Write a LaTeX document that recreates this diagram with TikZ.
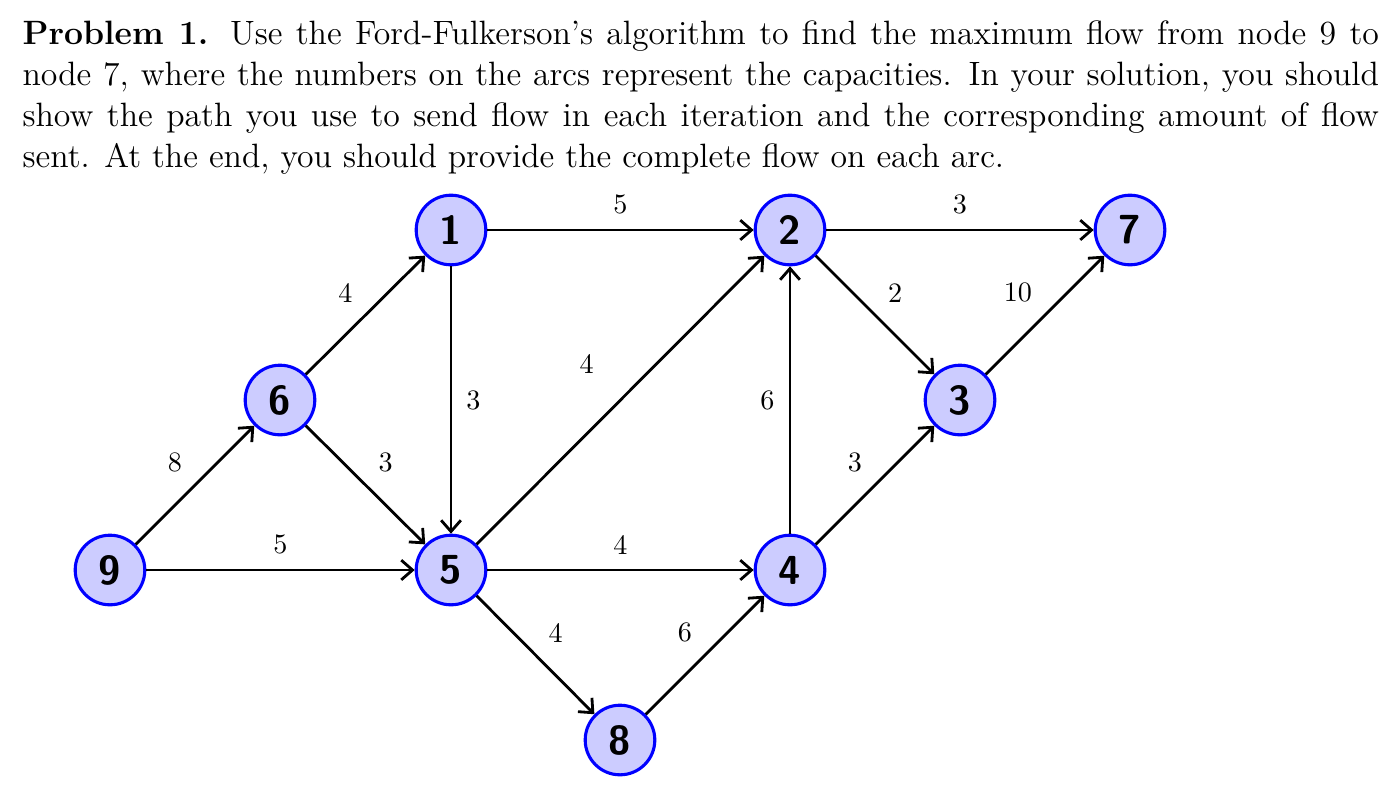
\documentclass[tikz,border=0pt]{standalone}
\usepackage{amsmath}
\usepackage{xcolor}
\usetikzlibrary{positioning, arrows.meta, calc}

\begin{document}
\begin{tikzpicture}[
    x=0.0125cm, y=-0.0125cm,
    vertex/.style={circle, draw=blue, fill=blue!20, line width=1.1pt, minimum size=0.87cm, inner sep=0pt, font=\Large\sffamily\bfseries},
    arc/.style={-{Straight Barb[length=4pt, width=7pt]}, line width=1pt, black},
    capacity/.style={font=\normalsize, inner sep=2pt}
]
\useasboundingbox (0,0) rectangle (1392,808);

% Statement
\node[anchor=north west, text width=16.95cm, align=justify, inner sep=0pt, font=\fontsize{12}{14.6}\selectfont] (statement) at (22,20)
{\textbf{Problem 1.} Use the Ford-Fulkerson's algorithm to find the maximum flow from node 9 to node 7, where the numbers on the arcs represent the capacities. In your solution, you should show the path you use to send flow in each iteration and the corresponding amount of flow sent. At the end, you should provide the complete flow on each arc.};

% Vertices
\node[vertex] (v1) at (451,230) {1};
\node[vertex] (v2) at (790,230) {2};
\node[vertex] (v7) at (1130,230) {7};
\node[vertex] (v6) at (280,400) {6};
\node[vertex] (v3) at (960,400) {3};
\node[vertex] (v9) at (110,570) {9};
\node[vertex] (v5) at (451,570) {5};
\node[vertex] (v4) at (790,570) {4};
\node[vertex] (v8) at (620,740) {8};

% Arcs with capacities
\draw[arc] (v1) -- node[capacity, above=3pt] {5} (v2);
\draw[arc] (v2) -- node[capacity, above=3pt] {3} (v7);
\draw[arc] (v6) -- node[capacity, above left=3pt] {4} (v1);
\draw[arc] (v1) -- node[capacity, right=3pt] {3} (v5);
\draw[arc] (v5) -- node[capacity, above left=10pt] {4} (v2);
\draw[arc] (v4) -- node[capacity, left=3pt] {6} (v2);
\draw[arc] (v2) -- node[capacity, above right=3pt] {2} (v3);
\draw[arc] (v3) -- node[capacity, above left=3pt] {10} (v7);
\draw[arc] (v4) -- node[capacity, above left=3pt] {3} (v3);
\draw[arc] (v9) -- node[capacity, above left=3pt] {8} (v6);
\draw[arc] (v6) -- node[capacity, above right=3pt] {3} (v5);
\draw[arc] (v9) -- node[capacity, above=3pt] {5} (v5);
\draw[arc] (v5) -- node[capacity, above=3pt] {4} (v4);
\draw[arc] (v5) -- node[capacity, above right=3pt] {4} (v8);
\draw[arc] (v8) -- node[capacity, above left=3pt] {6} (v4);

\end{tikzpicture}
\end{document}
